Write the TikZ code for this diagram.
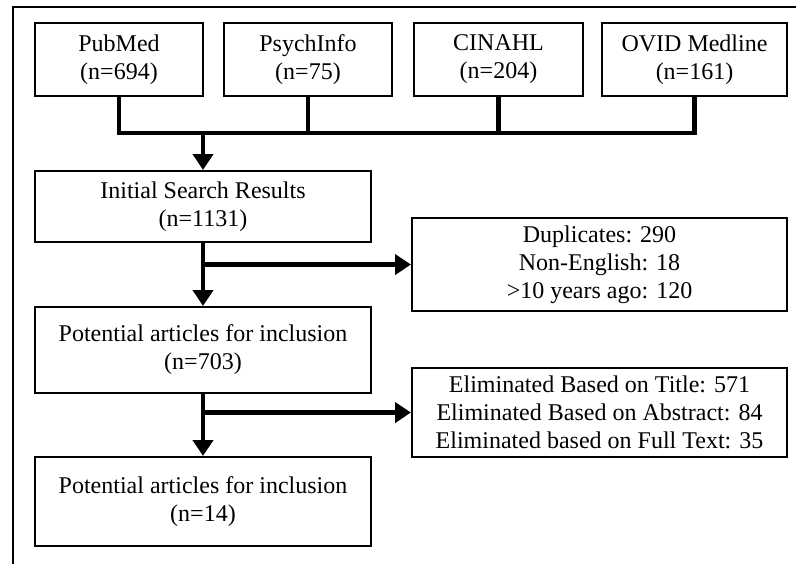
\documentclass[tikz,border=0pt]{standalone}
\usepackage{fontspec}
\setmainfont{Liberation Serif}
\usetikzlibrary{arrows.meta}

\begin{document}
\begin{tikzpicture}[x=0.5pt, y=-0.5pt,
    box/.style={rectangle, draw, line width=1pt, inner sep=0pt, align=center,
      font=\fontsize{12}{14}\selectfont},
    link/.style={line width=2.3pt},
    flow/.style={line width=2.3pt, -{Triangle[width=10pt, length=8pt]}}]
    \useasboundingbox (0, 0) rectangle (796, 564);

    % 枠
    \draw[line width=1pt] (13, 564) -- (13, 7) -- (796, 7);

    % 箱
    \node[box, minimum width=84pt, minimum height=36.5pt] (pub) at (119, 59.5) {PubMed\\(n=694)};
    \node[box, minimum width=84pt, minimum height=36.5pt] (psy) at (308, 59.5) {PsychInfo\\(n=75)};
    \node[box, minimum width=84.5pt, minimum height=36.5pt] (cin) at (498.5, 59.5) {CINAHL\\(n=204)};
    \node[box, minimum width=92.5pt, minimum height=36.5pt] (ovid) at (694.5, 59.5) {OVID Medline\\(n=161)};
    \node[box, minimum width=168pt, minimum height=35.5pt] (init) at (203, 206.5) {Initial Search Results\\(n=1131)};
    \node[box, minimum width=187.5pt, minimum height=46.5pt] (dup) at (599.5, 264.5) {Duplicates: 290\\Non-English: 18\\>10 years ago: 120};
    \node[box, minimum width=168pt, minimum height=43pt] (pot) at (203, 350) {Potential articles for inclusion\\(n=703)};
    \node[box, minimum width=187.5pt, minimum height=44.5pt] (elim) at (599.5, 412.5) {Eliminated Based on Title: 571\\Eliminated Based on Abstract: 84\\Eliminated based on Full Text: 35};
    \node[box, minimum width=168pt, minimum height=44.5pt] (fin) at (203, 501.5) {Potential articles for inclusion\\(n=14)};

    % 線を引く
    \coordinate (bus) at (203, 133);
    \draw[link] (pub.south) |- (bus) -| (ovid.south);
    \draw[link] (psy.south) -- (psy.south |- bus);
    \draw[link] (cin.south) -- (cin.south |- bus);
    \draw[flow] (bus) -- (init.north);

    \draw[flow] (init.south) -- (pot.north);
    \draw[flow] (init.south |- dup.west) -- (dup.west);
    \draw[flow] (pot.south) -- (fin.north);
    \draw[flow] (pot.south |- elim.west) -- (elim.west);

  \end{tikzpicture}
\end{document}
